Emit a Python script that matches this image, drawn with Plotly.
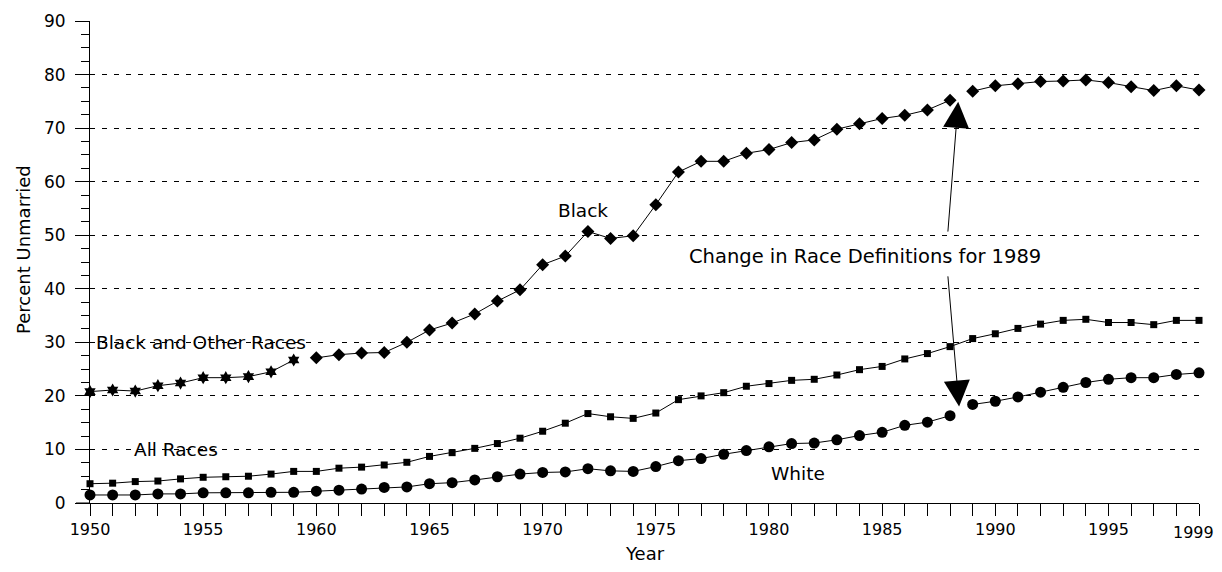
import plotly.graph_objects as go

years_bo = list(range(1950, 1960))
black_other = [20.8, 21.1, 20.9, 21.9, 22.4, 23.4, 23.4, 23.6, 24.5, 26.7]

years_b1 = list(range(1960, 1989))
black_1 = [27.1, 27.7, 28.0, 28.1, 30.0, 32.3, 33.6, 35.3, 37.7, 39.8,
           44.5, 46.1, 50.7, 49.4, 49.9, 55.7, 61.8, 63.8, 63.8, 65.3,
           66.0, 67.3, 67.8, 69.8, 70.8, 71.8, 72.4, 73.4, 75.2]
years_b2 = list(range(1989, 2000))
black_2 = [76.9, 77.9, 78.3, 78.7, 78.8, 79.0, 78.5, 77.7, 77.0, 77.9, 77.1]

years_all = list(range(1950, 2000))
all_races = [3.6, 3.7, 4.0, 4.1, 4.5, 4.8, 4.9, 5.0, 5.4, 5.9,
             5.9, 6.5, 6.7, 7.1, 7.6, 8.7, 9.4, 10.2, 11.1, 12.1,
             13.4, 14.9, 16.7, 16.1, 15.8, 16.8, 19.3, 20.0, 20.6, 21.8,
             22.3, 22.9, 23.1, 23.9, 24.9, 25.5, 26.9, 27.9, 29.2, 30.7,
             31.6, 32.6, 33.4, 34.1, 34.3, 33.7, 33.7, 33.3, 34.1, 34.1]

years_w1 = list(range(1950, 1989))
white_1 = [1.5, 1.5, 1.5, 1.7, 1.7, 1.9, 1.9, 1.9, 2.0, 2.0,
           2.2, 2.4, 2.6, 2.9, 3.0, 3.6, 3.8, 4.3, 4.9, 5.4,
           5.7, 5.8, 6.4, 6.0, 5.9, 6.8, 7.9, 8.3, 9.1, 9.8,
           10.5, 11.1, 11.2, 11.8, 12.6, 13.2, 14.5, 15.1, 16.3]
years_w2 = list(range(1989, 2000))
white_2 = [18.4, 19.0, 19.8, 20.7, 21.6, 22.5, 23.1, 23.4, 23.4, 24.0, 24.3]

x_tick_vals = list(range(1950, 2000))
x_tick_labels = [str(y) if (y % 5 == 0 or y == 1999) else "" for y in x_tick_vals]
last_year = x_tick_vals[-1]
y_tick_vals = list(range(0, 100, 10))

FONT = "DejaVu Sans"
fig = go.Figure()

def add(xs, ys, symbol, size):
    fig.add_trace(go.Scatter(
        x=xs, y=ys, mode="lines+markers",
        line=dict(color="black", width=1),
        marker=dict(symbol=symbol, size=size, color="black"),
        showlegend=False, cliponaxis=False))

add(years_bo, black_other, "hexagram", 10)
add(years_b1, black_1, "diamond", 10)
add(years_b2, black_2, "diamond", 10)
add(years_all, all_races, "square", 7)
add(years_w1, white_1, "circle", 11)
add(years_w2, white_2, "circle", 11)

lab = dict(font=dict(family=FONT, size=18.5, color="black"), showarrow=False,
           xref="x", yref="y")
fig.add_annotation(x=1954.9, y=29.9, text="Black and Other Races", **lab)
fig.add_annotation(x=1953.8, y=10.0, text="All Races", **lab)
fig.add_annotation(x=1971.8, y=54.7, text="Black", **lab)
fig.add_annotation(x=1981.3, y=5.6, text="White", **lab)
lab2 = dict(lab)
lab2["font"] = dict(family=FONT, size=19.5, color="black")
fig.add_annotation(x=1984.25, y=46.1, text="Change in Race Definitions for 1989", **lab2)

arr = dict(xref="x", yref="y", axref="x", ayref="y", text="", showarrow=True,
           arrowhead=2, arrowsize=5.2, arrowwidth=1, arrowcolor="black", standoff=0)
fig.add_annotation(x=1988.36, y=74.9, ax=1987.9, ay=50.4, **arr)
fig.add_annotation(x=1988.4, y=18.0, ax=1987.9, ay=42.6, **arr)

# axis titles
fig.add_annotation(xref="paper", yref="paper", x=0, y=0.525, xshift=-66,
                   text="Percent Unmarried", textangle=-90, showarrow=False,
                   font=dict(family=FONT, size=18, color="black"),
                   xanchor="center", yanchor="middle")
fig.add_annotation(xref="paper", yref="paper", x=0.5, y=0, yshift=-50, borderpad=0,
                   text="Year", showarrow=False,
                   font=dict(family=FONT, size=18, color="black"),
                   xanchor="center", yanchor="middle")

# last tick label drawn as annotation, nudged inside the page edge
x_tick_text = [t if v != last_year else "" for v, t in zip(x_tick_vals, x_tick_labels)]
fig.add_annotation(xref="x", yref="paper", x=last_year, y=0, yshift=-29, xshift=-6,
                   borderpad=0, text=x_tick_labels[-1], showarrow=False,
                   font=dict(family=FONT, size=16, color="black"),
                   xanchor="center", yanchor="middle")

# x axis line extension to the left
fig.add_shape(type="line", xref="paper", yref="paper", x0=-14/1109, x1=0, y0=0, y1=0,
              line=dict(color="black", width=1))

fig.update_xaxes(
    range=[1950, 1999], tickvals=x_tick_vals, ticktext=x_tick_text,
    ticks="outside", ticklen=12, tickwidth=1, tickcolor="black", automargin=False,
    showline=True, linecolor="black", linewidth=1, showgrid=False, zeroline=False,
    tickfont=dict(family=FONT, size=16, color="black"),
)
fig.update_yaxes(
    range=[0, 90], tickvals=y_tick_vals, automargin=False,
    ticks="outside", ticklen=14, tickwidth=1, tickcolor="black",
    ticklabelstandoff=6,
    minor=dict(dtick=2.5, ticks="outside", ticklen=8, tickcolor="black", showgrid=False),
    showline=True, linecolor="black", linewidth=1,
    showgrid=True, gridcolor="black", gridwidth=1, griddash="5px,7px", zeroline=False,
    tickfont=dict(family=FONT, size=17, color="black"),
)
fig.update_layout(
    width=1206, height=556,
    margin=dict(l=82, r=15, t=13, b=61),
    plot_bgcolor="white", paper_bgcolor="white",
)
fig.write_html("out.html")
